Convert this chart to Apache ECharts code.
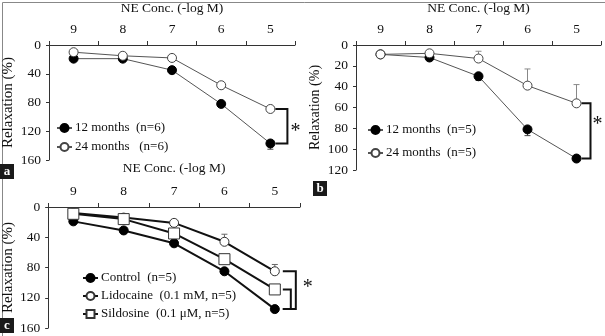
<!DOCTYPE html>
<html>
<head>
<meta charset="utf-8">
<script src="https://cdn.jsdelivr.net/npm/echarts@6/dist/echarts.min.js"></script>
<style>
html,body{margin:0;padding:0;background:#fff;}
#chart{width:605px;height:336px;}
</style>
</head>
<body>
<div id="chart"></div>
<script>
// ---- Data ----
const categories = ['9', '8', '7', '6', '5'];

// Panel a
const a12 = [19, 19, 35, 82, 137];
const a12Err = [0, 0, 4, 0, 8];
const a24 = [10, 15, 18, 56, 89];
const a24Err = [0, 0, 0, 0, 0];

// Panel b
const b12 = [9, 12, 30, 81, 109];
const b12Err = [0, 2, 4, 6, 2];
const b24 = [9, 8, 13, 39, 56];
const b24Err = [0, 0, 7, 16, 18];

// Panel c
const cCtrl = [19, 31, 48, 85, 135];
const cCtrlErr = [0, 0, 0, 0, 3];
const cLido = [8, 14, 21, 46, 85];
const cLidoErr = [0, 0, 0, 10, 9];
const cSild = [9, 16, 35, 69, 109];
const cSildErr = [0, 3, 0, 0, 0];

const yTicksA = [0, 40, 80, 120, 160];
const yTicksB = [0, 20, 40, 60, 80, 100, 120];

// ---- Chart ----
const FONT = '"Liberation Serif", "Times New Roman", serif';
const FS = 13;
const chart = echarts.init(document.getElementById('chart'), null, {renderer: 'canvas'});

function xAxis(gi, color, gap) {
  return {
    type: 'category', gridIndex: gi, position: 'top', data: categories,
    boundaryGap: true,
    name: 'NE Conc. (-log M)', nameLocation: 'middle', nameGap: gap,
    nameTextStyle: {fontFamily: FONT, fontSize: 13.5, color: '#111'},
    axisLine: {lineStyle: {color: color, width: 1}},
    axisTick: {show: true, inside: false, length: 4, alignWithLabel: false, lineStyle: {color: color}},
    axisLabel: {fontFamily: FONT, fontSize: 13.5, color: '#111', margin: 9},
    splitLine: {show: false}
  };
}
function yAxis(gi, max, interval, color, nameSize, nameGap) {
  return {
    type: 'value', gridIndex: gi, inverse: true, min: 0, max: max, interval: interval,
    name: 'Relaxation (%)', nameLocation: 'middle', nameGap: nameGap, nameRotate: 90,
    nameTextStyle: {fontFamily: FONT, fontSize: nameSize, color: '#111'},
    axisLine: {show: true, lineStyle: {color: color, width: 1}},
    axisTick: {show: true, inside: false, length: 3, lineStyle: {color: color}},
    axisLabel: {fontFamily: FONT, fontSize: 13.5, color: '#111', margin: 8},
    splitLine: {show: false}
  };
}

function lineSeries(name, gi, data, opts) {
  return {
    type: 'line', name: name, xAxisIndex: gi, yAxisIndex: gi, data: data,
    symbol: opts.symbol, symbolSize: opts.size, showSymbol: true,
    lineStyle: {color: opts.lineColor, width: opts.lineWidth},
    itemStyle: {color: opts.fill, borderColor: opts.border, borderWidth: opts.borderWidth},
    z: 3, animation: false, silent: true
  };
}

function errSeries(gi, vals, errs, dir, color, width) {
  const d = [];
  vals.forEach((v, i) => { if (errs[i] > 0) d.push([i, v, v + dir * errs[i]]); });
  return {
    type: 'custom', xAxisIndex: gi, yAxisIndex: gi, data: d, z: 2, clip: false,
    animation: false, silent: true,
    encode: {x: 0, y: [1, 2]},
    renderItem: function (params, api) {
      const p1 = api.coord([api.value(0), api.value(1)]);
      const p2 = api.coord([api.value(0), api.value(2)]);
      return {
        type: 'group', children: [
          {type: 'line', shape: {x1: p1[0], y1: p1[1], x2: p2[0], y2: p2[1]}, style: {stroke: color, lineWidth: width}},
          {type: 'line', shape: {x1: p2[0] - 3, y1: p2[1], x2: p2[0] + 3, y2: p2[1]}, style: {stroke: color, lineWidth: width}}
        ]
      };
    }
  };
}

// bracket: [category, valueTop, valueBottom]
function bracketSeries(gi, items, star) {
  return {
    type: 'custom', xAxisIndex: gi, yAxisIndex: gi, data: items.map(b => b.d), z: 4, clip: false,
    animation: false, silent: true,
    encode: {x: 0, y: [1, 2]},
    renderItem: function (params, api) {
      const b = items[params.dataIndex];
      const p1 = api.coord([api.value(0), api.value(1)]);
      const p2 = api.coord([api.value(0), api.value(2)]);
      const children = [{
        type: 'polyline',
        shape: {points: [[p1[0] + b.o1, p1[1]], [p1[0] + b.o2, p1[1]], [p1[0] + b.o2, p2[1]], [p1[0] + b.o1, p2[1]]]},
        style: {stroke: '#111', lineWidth: 2, fill: null}
      }];
      if (params.dataIndex === 0) {
        const sp = api.coord([api.value(0), star.v]);
        children.push({
          type: 'text', style: {x: p1[0] + star.o, y: sp[1], text: '*', fontFamily: FONT, fontSize: 20,
            fill: '#111', align: 'center', verticalAlign: 'middle'}
        });
      }
      return {type: 'group', children: children};
    }
  };
}

const grayLine = '#555';
const series = [
  // Panel a
  lineSeries('12 months  (n=6)', 0, a12, {symbol: 'circle', size: 9, lineColor: grayLine, lineWidth: 1, fill: '#000', border: '#000', borderWidth: 1}),
  lineSeries('24 months   (n=6)', 0, a24, {symbol: 'circle', size: 9, lineColor: grayLine, lineWidth: 1, fill: '#fff', border: '#444', borderWidth: 1}),
  errSeries(0, a12, a12Err, 1, '#444', 1),
  errSeries(0, a24, a24Err, -1, '#444', 1),
  bracketSeries(0, [{d: [4, a24[4], a12[4]], o1: 5, o2: 17}], {v: 120, o: 25}),
  // Panel b
  lineSeries('12 months  (n=5)', 1, b12, {symbol: 'circle', size: 9, lineColor: grayLine, lineWidth: 1, fill: '#000', border: '#000', borderWidth: 1}),
  lineSeries('24 months  (n=5)', 1, b24, {symbol: 'circle', size: 9, lineColor: grayLine, lineWidth: 1, fill: '#fff', border: '#444', borderWidth: 1}),
  errSeries(1, b12, b12Err, 1, '#444', 1),
  errSeries(1, b24, b24Err, -1, '#888', 1),
  bracketSeries(1, [{d: [4, b24[4], b12[4]], o1: 5, o2: 14}], {v: 77, o: 21}),
  // Panel c
  lineSeries('Control  (n=5)', 2, cCtrl, {symbol: 'circle', size: 9, lineColor: '#111', lineWidth: 2, fill: '#000', border: '#000', borderWidth: 1}),
  lineSeries('Lidocaine  (0.1 mM, n=5)', 2, cLido, {symbol: 'circle', size: 9, lineColor: '#111', lineWidth: 2, fill: '#fff', border: '#333', borderWidth: 1}),
  lineSeries('Sildosine  (0.1 μM, n=5)', 2, cSild, {symbol: 'rect', size: 11, lineColor: '#111', lineWidth: 2, fill: '#fff', border: '#333', borderWidth: 1}),
  errSeries(2, cCtrl, cCtrlErr, 1, '#444', 1),
  errSeries(2, cLido, cLidoErr, -1, '#666', 1),
  errSeries(2, cSild, cSildErr, -1, '#666', 1),
  bracketSeries(2, [
    {d: [4, cLido[4], cCtrl[4]], o1: 8, o2: 21},
    {d: [4, cSild[4], cCtrl[4]], o1: 8, o2: 16}
  ], {v: 107, o: 33})
];

function legend(names, left, top, gap) {
  return {
    data: names, orient: 'vertical', left: left, top: top,
    itemWidth: 15, itemHeight: 10, itemGap: gap, selectedMode: false,
    textStyle: {fontFamily: FONT, fontSize: FS, color: '#111', lineHeight: 14, padding: [0, 0, 0, -2]},
    padding: 0
  };
}

function panelLabel(letter, x, y) {
  return {
    type: 'group', left: x, top: y, children: [
      {type: 'rect', shape: {x: 0, y: 0, width: 14, height: 15}, style: {fill: '#1a1a1a'}},
      {type: 'text', style: {x: 7, y: 7.5, text: letter, fontFamily: FONT, fontWeight: 'bold', fontSize: 13,
        fill: '#fff', align: 'center', verticalAlign: 'middle'}}
    ]
  };
}

const option = {
  backgroundColor: '#fff',
  animation: false,
  grid: [
    {left: 46, top: 38, width: 249, height: 122},
    {left: 356, top: 38, width: 245, height: 132},
    {left: 43, top: 207, width: 257, height: 121}
  ],
  xAxis: [xAxis(0, '#333', 30), xAxis(1, '#333', 30), xAxis(2, '#333', 32)],
  yAxis: [
    yAxis(0, 160, 40, '#333', 15, 33),
    yAxis(1, 120, 20, '#333', 14, 34),
    yAxis(2, 160, 40, '#333', 15, 30)
  ],
  legend: [
    legend(['12 months  (n=6)', '24 months   (n=6)'], 56, 121, 5),
    legend(['12 months  (n=5)', '24 months  (n=5)'], 367, 123, 9),
    legend(['Control  (n=5)', 'Lidocaine  (0.1 mM, n=5)', 'Sildosine  (0.1 μM, n=5)'], 82, 271, 4)
  ],
  series: series,
  graphic: [
    {type: 'rect', left: 0, top: 0, shape: {x: 0, y: 0, width: 604, height: 335}, style: {fill: null, stroke: '#888', lineWidth: 1}},
    panelLabel('a', 0, 164),
    panelLabel('b', 313, 181),
    panelLabel('c', 0, 318)
  ]
};
chart.setOption(option);
</script>
</body>
</html>
